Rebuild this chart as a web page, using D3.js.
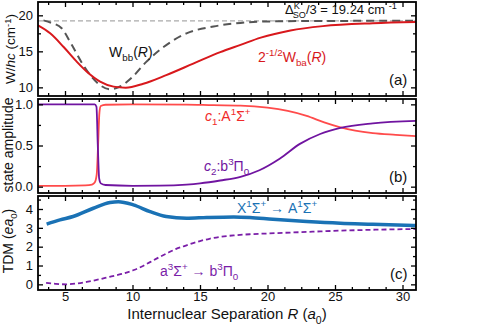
<!DOCTYPE html>
<html><head><meta charset="utf-8">
<script src="https://cdn.jsdelivr.net/npm/d3@7"></script>
<style>body{margin:0;background:#fff}svg{display:block;font-family:"Liberation Sans",Arial,sans-serif}</style>
</head><body><svg id="c" width="486" height="325"></svg>
<script>
// ---- data ----
const xTicks = [5, 10, 15, 20, 25, 30];
const aTicks = [10, 15, 20];
const bTicks = [0.0, 0.5, 1.0];
const cTicks = [0, 1, 2, 3, 4];
const deltaSO3 = 19.24;
// panel (a)
const Wbb = [[3.4,19.3],[4.0,18.95],[4.75,18.2],[5.5,15.9],[6.25,13.4],[7.0,11.4],[7.6,10.3],[8.3,9.75],[9.0,10.05],[10.0,11.45],[11.0,13.5],[12.3,15.6],[14.0,17.5],[16.0,18.45],[18.0,18.95],[20.0,19.15],[24,19.22],[31,19.24]];
const Wba = [[3.0,18.6],[3.9,17.5],[4.9,15.6],[5.9,13.5],[6.6,12.2],[7.6,10.8],[8.6,10.1],[9.5,9.95],[10.8,10.5],[12.5,11.7],[14.5,13.3],[16.5,14.9],[18.0,15.9],[19.5,16.9],[21.7,17.9],[24.1,18.5],[27.8,18.9],[31,19.07]];
// panel (b)
const c1 = [[3,0.01],[5,0.01],[6.5,0.015],[7.0,0.025],[7.2,0.05],[7.35,0.15],[7.45,0.5],[7.55,0.9],[7.65,0.98],[8,0.995],[10,1.0],[14,0.997],[16,0.99],[18,0.985],[20,0.96],[21.5,0.92],[22.9,0.86],[24.2,0.78],[25.4,0.72],[26.5,0.68],[27.8,0.65],[29.5,0.63],[31,0.615]];
const c2 = [[3,1.0],[7.2,1.0],[7.33,0.97],[7.43,0.5],[7.53,0.1],[7.65,0.04],[8,0.02],[10,0.01],[12,0.012],[14,0.025],[15,0.04],[16.5,0.075],[18,0.12],[19.4,0.2],[20.9,0.34],[22.4,0.52],[23.9,0.64],[25.4,0.715],[27.8,0.77],[31,0.80]];
// panel (c)
const tdmXA = [[3.64,3.2],[4.63,3.42],[5.6,3.6],[7.1,4.04],[8.33,4.34],[8.95,4.39],[10.06,4.22],[11.3,3.86],[12.5,3.6],[14.0,3.51],[15.5,3.55],[17.5,3.58],[18.7,3.55],[20.4,3.45],[22.9,3.33],[25.4,3.24],[27.8,3.19],[31,3.12]];
const tdmab = [[3.6,0.08],[4.3,0.03],[5.1,0.0],[5.9,0.05],[6.6,0.13],[7.5,0.26],[8.3,0.4],[9.2,0.55],[10.1,0.76],[10.7,0.95],[11.3,1.18],[12.0,1.45],[12.5,1.63],[13.2,1.87],[14.0,2.07],[15.0,2.3],[15.7,2.42],[16.5,2.52],[17.5,2.6],[18.7,2.66],[20,2.7],[21.7,2.75],[23.5,2.8],[25.4,2.85],[28,2.9],[31,2.94]];

// ---- layout ----
const svg = d3.select('#c');
const L = 38, R = 416;
const x = d3.scaleLinear().domain([3, 31]).range([L, R]);
const panels = [
  {top:2, bot:96, dom:[8.8,21.85], major:aTicks, minorStep:2.5, fmt:d3.format('d')},
  {top:99, bot:193, dom:[-0.077,1.065], major:bTicks, minorStep:0.25, fmt:d3.format('.1f')},
  {top:196, bot:290, dom:[-0.3,4.69], major:cTicks, minorStep:0.5, fmt:d3.format('d')}
];
panels.forEach(p => p.y = d3.scaleLinear().domain(p.dom).range([p.bot, p.top]));

function range(a, b, s){ const r=[]; for(let v=Math.ceil(a/s-1e-9)*s; v<=b+1e-9; v+=s) r.push(+v.toFixed(6)); return r; }
const xMinor = range(3, 31, 1.25).filter(v => !xTicks.some(t=>Math.abs(t-v)<1e-6));

const clipId = i => 'clip'+i;
const defs = svg.append('defs');
panels.forEach((p,i) => {
  defs.append('clipPath').attr('id', clipId(i)).append('rect')
    .attr('x', L).attr('y', p.top).attr('width', R-L).attr('height', p.bot-p.top);
});

function drawAxes(p, i, showX){
  const g = svg.append('g');
  const yMinor = range(p.dom[0], p.dom[1], p.minorStep).filter(v => !p.major.some(t=>Math.abs(t-v)<1e-6));
  const ax = [
    [d3.axisLeft(p.y).tickValues(p.major).tickSize(-5).tickPadding(5).tickFormat(p.fmt), `translate(${L},0)`],
    [d3.axisLeft(p.y).tickValues(yMinor).tickSize(-3).tickFormat(''), `translate(${L},0)`],
    [d3.axisRight(p.y).tickValues(p.major).tickSize(-5).tickFormat(''), `translate(${R},0)`],
    [d3.axisRight(p.y).tickValues(yMinor).tickSize(-3).tickFormat(''), `translate(${R},0)`],
    [d3.axisBottom(x).tickValues(xTicks).tickSize(-5).tickPadding(2).tickFormat(showX? d3.format('d') : ''), `translate(0,${p.bot})`],
    [d3.axisBottom(x).tickValues(xMinor).tickSize(-3).tickFormat(''), `translate(0,${p.bot})`],
    [d3.axisTop(x).tickValues(xTicks).tickSize(-5).tickFormat(''), `translate(0,${p.top})`],
    [d3.axisTop(x).tickValues(xMinor).tickSize(-3).tickFormat(''), `translate(0,${p.top})`]
  ];
  ax.forEach(([a, tr]) => {
    const ag = g.append('g').attr('transform', tr).call(a);
    ag.select('.domain').remove();
    ag.selectAll('line').attr('stroke', '#000').attr('stroke-width', 1.3);
    ag.selectAll('text').attr('font-size', 13).attr('fill', '#111').attr('font-family', '"Liberation Sans",Arial,sans-serif');
  });
  g.append('rect').attr('x', L).attr('y', p.top).attr('width', R-L).attr('height', p.bot-p.top)
    .attr('fill', 'none').attr('stroke', '#000').attr('stroke-width', 1.8);
}

function line(p, data, i, style){
  const gen = d3.line().x(d=>x(d[0])).y(d=>p.y(d[1])).curve(d3.curveMonotoneX);
  const path = svg.append('path').datum(data).attr('d', gen).attr('fill','none')
    .attr('clip-path', `url(#${clipId(i)})`);
  Object.entries(style).forEach(([k,v]) => path.attr(k, v));
}

function rich(x0, y0, parts, opts){
  const fs = opts.size || 14;
  const supF = opts.supF || 0.42;
  const t = svg.append('text').attr('x', x0).attr('y', y0).attr('font-size', fs)
    .attr('fill', opts.fill || '#111').attr('text-anchor', opts.anchor || 'start');
  if (opts.rotate) t.attr('transform', `rotate(-90,${x0},${y0})`);
  let cur = 0;
  parts.forEach(pt => {
    if (typeof pt === 'string') pt = {t: pt};
    const off = pt.s === 'sup' ? -supF*fs : pt.s === 'sub' ? 0.3*fs : 0;
    const ts = t.append('tspan').attr('dy', off - cur).text(pt.t);
    if (pt.dx) ts.attr('dx', pt.dx);
    cur = off;
    if (pt.s) ts.attr('font-size', fs*0.7);
    if (pt.i) ts.attr('font-style', 'italic');
  });
  return t;
}

// ---- panel (a) ----
const pa = panels[0], pb = panels[1], pc = panels[2];
line(pa, [[3,deltaSO3],[31,deltaSO3]], 0, {stroke:'#aaa', 'stroke-width':1.2, 'stroke-dasharray':'5,3'});
line(pa, Wbb, 0, {stroke:'#555', 'stroke-width':2, 'stroke-dasharray':'8,5'});
line(pa, Wba, 0, {stroke:'#d8181c', 'stroke-width':2});
// ---- panel (b) ----
line(pb, c1, 1, {stroke:'#ff4b4b', 'stroke-width':1.8});
line(pb, c2, 1, {stroke:'#7014a0', 'stroke-width':1.8});
// ---- panel (c) ----
line(pc, tdmXA, 2, {stroke:'#1a72b5', 'stroke-width':3.5});
line(pc, tdmab, 2, {stroke:'#7a1ea8', 'stroke-width':1.8, 'stroke-dasharray':'5,3'});

panels.forEach((p,i) => drawAxes(p, i, i===2));

// ---- annotations ----
rich(285, 14, ['Δ', {t:'K', s:'sup'}, {t:'SO', s:'sub', dx:-7}, '/3 = 19.24 cm ', {t:'-1', s:'sup'}], {size:13});
rich(109, 57, ['W', {t:'bb', s:'sub'}, '(', {t:'R', i:true}, ')'], {size:14});
rich(258, 62, ['2', {t:'-1/2', s:'sup'}, 'W', {t:'ba', s:'sub'}, '(', {t:'R', i:true}, ')'], {size:14, fill:'#d8181c'});
rich(389, 85, ['(a)'], {size:15});
rich(205, 121, [{t:'c', i:true}, {t:'1', s:'sub'}, ':A', {t:'1', s:'sup'}, 'Σ', {t:'+', s:'sup'}], {size:14, fill:'#f02a2a'});
rich(204, 171, [{t:'c', i:true}, {t:'2', s:'sub'}, ':b', {t:'3', s:'sup'}, 'Π', {t:'0', s:'sub'}], {size:14, fill:'#7014a0'});
rich(389, 182, ['(b)'], {size:15});
rich(237, 213, ['X', {t:'1', s:'sup'}, 'Σ', {t:'+', s:'sup'}, ' → A', {t:'1', s:'sup'}, 'Σ', {t:'+', s:'sup'}], {size:14, fill:'#1a72b5'});
rich(160, 276, ['a', {t:'3', s:'sup'}, 'Σ', {t:'+', s:'sup'}, ' → b', {t:'3', s:'sup'}, 'Π', {t:'0', s:'sub'}], {size:14, fill:'#7a1ea8'});
rich(390, 279, ['(c)'], {size:15});

// axis titles
rich(227, 319, ['Internuclear Separation ', {t:'R', i:true}, ' (', {t:'a', i:true}, {t:'0', s:'sub'}, ')'], {size:15, anchor:'middle'});
rich(15, 49, ['W/', {t:'hc', i:true}, ' (cm', {t:'-1', s:'sup'}, ')'], {size:13.5, anchor:'middle', rotate:true, supF:0.3});
rich(13, 145, ['state amplitude'], {size:14, anchor:'middle', rotate:true});
rich(13, 241, ['TDM (', {t:'ea', i:true}, {t:'0', s:'sub'}, ')'], {size:14, anchor:'middle', rotate:true});
</script></body></html>
